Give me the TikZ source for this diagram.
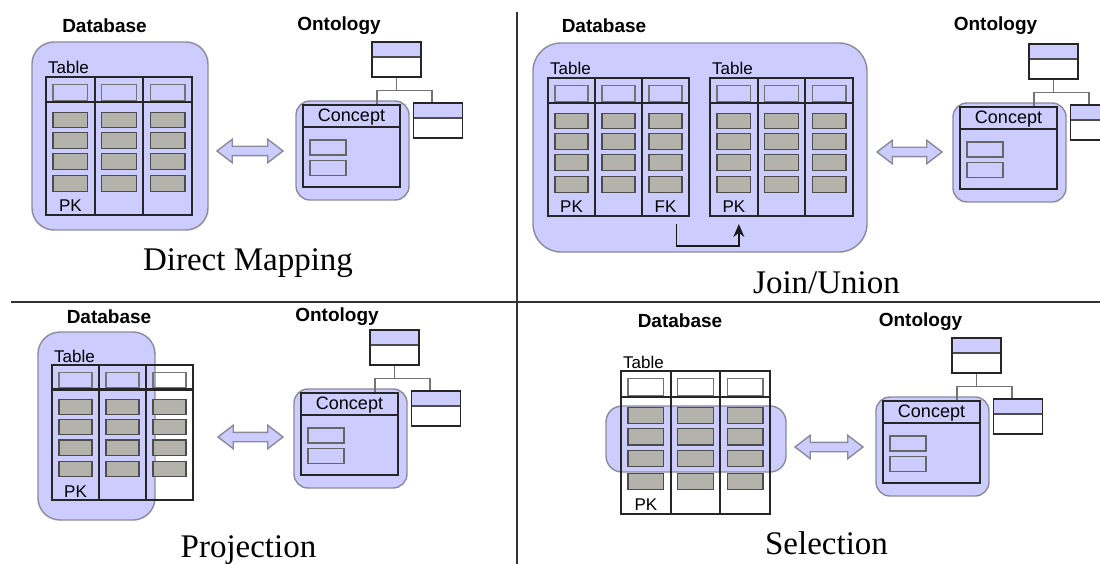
\documentclass[tikz,border=0pt]{standalone}
\usepackage{fontspec}
\setmainfont{Liberation Serif}
\newfontfamily\arial{Liberation Sans}
\usepackage{xcolor}
\usepackage{tikz}
\usetikzlibrary{positioning}
\usetikzlibrary{arrows.meta,shapes.arrows}
\usetikzlibrary{calc}
\definecolor{lav}{HTML}{CCCCFF}
\definecolor{cellgray}{HTML}{B3B3AB}
\definecolor{rimgray}{HTML}{8A8A9A}
\tikzstyle{tabcol}=[rectangle,draw=black!85,line width=2pt,inner sep=0pt]
\tikzstyle{headline}=[draw=black!85,line width=2.4pt]
\tikzstyle{headbox}=[rectangle,draw=black!55,line width=1.4pt,inner sep=0pt]
\tikzstyle{datacell}=[rectangle,fill=cellgray,draw=black!70,line width=1.4pt,inner sep=0pt]
\tikzstyle{keylabel}=[font=\arial\fontsize{17}{17}\selectfont,inner sep=0pt]
\tikzstyle{tablelabel}=[font=\arial\fontsize{17}{17}\selectfont,inner sep=0pt,anchor=base west]
\tikzstyle{partlabel}=[font=\arial\bfseries\fontsize{19}{19}\selectfont,inner sep=0pt,anchor=base]
\tikzstyle{maptitle}=[font=\fontsize{33}{33}\selectfont,inner sep=0pt,anchor=base]
\tikzstyle{halo}=[rectangle,fill=lav,draw=rimgray,line width=1.4pt,inner sep=0pt]
\tikzstyle{conframe}=[rectangle,draw=black!85,line width=2pt,minimum width=97pt,minimum height=82pt,inner sep=0pt]
\tikzstyle{conlabel}=[font=\arial\fontsize{18}{18}\selectfont,inner sep=0pt]
\tikzstyle{attr}=[rectangle,draw=black!60,line width=1.4pt,minimum width=36pt,minimum height=15pt,inner sep=0pt]
\tikzstyle{link}=[draw=black!55,line width=1.1pt]
\tikzstyle{fklink}=[draw=black!90,line width=1.8pt,-{Stealth[length=13pt,width=11pt]}]
\tikzstyle{divider}=[draw=black!80,line width=1.4pt]
\tikzset{cls/.style={rectangle,draw=black!85,line width=1.8pt,fill=white,minimum width=49pt,minimum height=35pt,inner sep=0pt,
  path picture={\fill[lav] (path picture bounding box.north west) rectangle ([yshift=-15pt]path picture bounding box.north east);
    \draw[black!70,line width=1.2pt] ([yshift=-15pt]path picture bounding box.north west) -- ([yshift=-15pt]path picture bounding box.north east);}}}
\tikzset{dblarrow/.style={double arrow,fill=lav,draw=rimgray,line width=1.4pt,minimum height=66pt,inner sep=4pt,double arrow head extend=7pt,double arrow tip angle=75}}

% table with three columns, top left at (\dx,\dy), column width \u, height factor \v
\newcommand{\dbtable}[2]{%
  \node[tablelabel] (#1lbl) at (\dx+2,\dy-3) {Table};
  \foreach \i/\key in {#2} {
    \node[tabcol,minimum width={\u*1pt},minimum height={\v*138pt}] (#1c\i) at (\dx+\u*\i-\u/2,\dy+\v*69) {};
    \node[headbox,minimum width={(\u-14)*1pt},minimum height={\v*16pt}] (#1h\i) at (\dx+\u*\i-\u/2,\dy+\v*15.5) {};
    \foreach \r/\yy in {1/43,2/63.5,3/84.5,4/106.5}
      \node[datacell,minimum width={(\u-14)*1pt},minimum height={\v*15.5pt}] (#1r\i\r) at (\dx+\u*\i-\u/2,\dy+\v*\yy) {};
    \node[keylabel] (#1k\i) at (\dx+\u*\i-\u/2,\dy+\v*129) {\key};
  }
  \draw[headline] (#1c1.north west) ++(0,\v*26) -- ++(3*\u,0);
}

% concept with its class tree, frame top left at (\dx,\dy)
\newcommand{\ontology}[1]{%
  \node[halo,minimum width=113pt,minimum height=99pt,rounded corners=14pt] (#1hl) at (\dx+49.5,\dy+45.5) {};
  \node[conframe] (#1con) at (\dx+48.5,\dy+41) {};
  \draw[headline,line width=2.2pt] (#1con.north west) ++(0,23) -- ++(97,0);
  \node[conlabel] (#1cl) at (\dx+48.5,\dy+12) {Concept};
  \foreach \k/\yy in {1/42.5,2/63}
    \node[attr] (#1a\k) at (\dx+25,\dy+\yy) {};
  \node[cls] (#1top) at (\dx+93.5,\dy-45.5) {};
  \node[cls] (#1side) at (\dx+135,\dy+15.5) {};
  \draw[link] (#1top.south) -- ++(0,13) coordinate (#1bar);
  \draw[link] ([xshift=-24pt]#1con.north east) |- (#1bar) -| ([xshift=-6pt]#1side.north);
}

\begin{document}
\begin{tikzpicture}[x=1pt,y=-1pt]
 \useasboundingbox (0,0) rectangle (1100,564);

 \draw[divider] (517,12) -- (517,564);
 \draw[divider] (11,302) -- (1100,302);

 %B0 direct mapping
 \node[halo,minimum width=176pt,minimum height=188pt,rounded corners=22pt] (B0hl) at (120,136) {};
 \def\dx{46}
 \def\dy{77}
 \def\u{48.7}
 \def\v{1}
 \dbtable{B0t}{1/PK,2/,3/}
 \node[dblarrow] (B0arr) at (250,151) {};
 \def\dx{303}
 \def\dy{105}
 \ontology{B0o}
 \node[partlabel] (B0db) at (104.5,33) {Database};
 \node[partlabel] (B0on) at (339,31) {Ontology};
 \node[maptitle] (B0ti) at (248,270) {Direct Mapping};

 %B1 join/union
 \node[halo,minimum width=334pt,minimum height=209pt,rounded corners=28pt] (B1hl) at (700,147.5) {};
 \def\dx{548}
 \def\dy{78}
 \def\u{47}
 \def\v{1}
 \dbtable{B1ta}{1/PK,2/,3/FK}
 \def\dx{710}
 \def\u{47.7}
 \dbtable{B1tb}{1/PK,2/,3/}
 \draw[fklink] ([xshift=11pt,yshift=-7pt]B1tac3.south) -- ++(0,22) -| ([xshift=5pt,yshift=-7pt]B1tbc1.south);
 \node[dblarrow,minimum height=65pt] (B1arr) at (909.5,152) {};
 \def\dx{960}
 \def\dy{107}
 \ontology{B1o}
 \node[partlabel] (B1db) at (604,33) {Database};
 \node[partlabel] (B1on) at (995.5,31) {Ontology};
 \node[maptitle] (B1ti) at (826.5,293) {Join/Union};

 %B2 projection
 \node[halo,minimum width=117pt,minimum height=188pt,rounded corners=22pt] (B2hl) at (96.5,426) {};
 \def\dx{52}
 \def\dy{365}
 \def\u{47}
 \def\v{0.978}
 \dbtable{B2t}{1/PK,2/,3/}
 \node[dblarrow,minimum height=65pt] (B2arr) at (250.5,437) {};
 \def\dx{301}
 \def\dy{393}
 \ontology{B2o}
 \node[partlabel] (B2db) at (109,323) {Database};
 \node[partlabel] (B2on) at (337,321) {Ontology};
 \node[maptitle] (B2ti) at (248.5,557) {Projection};

 %B3 selection
 \node[halo,minimum width=180pt,minimum height=66pt,rounded corners=16pt] (B3hl) at (696,439) {};
 \def\dx{621}
 \def\dy{371}
 \def\u{49.7}
 \def\v{1.036}
 \dbtable{B3t}{1/PK,2/,3/}
 \node[dblarrow,minimum height=68pt] (B3arr) at (829,447) {};
 \def\dx{883}
 \def\dy{401}
 \ontology{B3o}
 \node[partlabel] (B3db) at (680,327) {Database};
 \node[partlabel] (B3on) at (920.5,326) {Ontology};
 \node[maptitle] (B3ti) at (826.5,554) {Selection};

\end{tikzpicture}
\end{document}
